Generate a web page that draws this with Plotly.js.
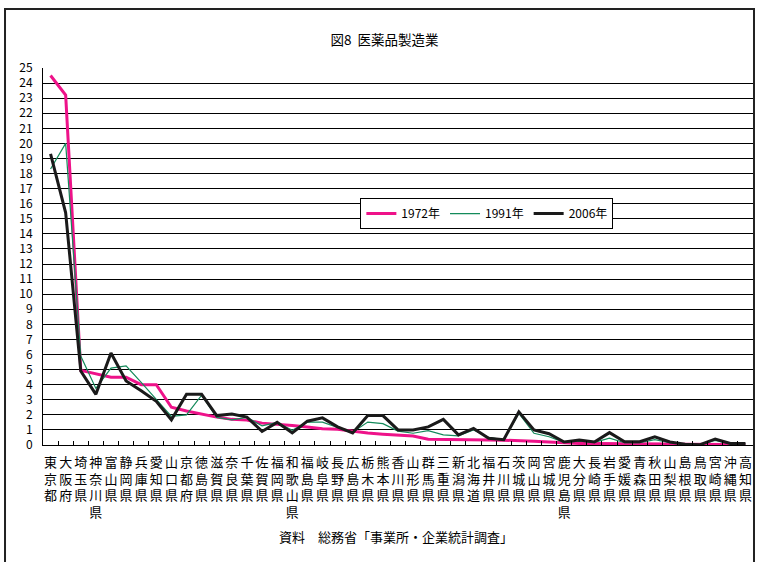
<!DOCTYPE html>
<html>
<head>
<meta charset="utf-8">
<script src="https://cdn.plot.ly/plotly-3.0.1.min.js"></script>
<style>
  html, body { margin: 0; padding: 0; background: #fff; }
  #chart { width: 757px; height: 562px; }
</style>
</head>
<body>
<div id="chart"></div>
<script>
// Prefectures, ordered by 1972 share
const prefectures = ["東京都","大阪府","埼玉県","神奈川県","富山県","静岡県","兵庫県","愛知県","山口県","京都府",
  "徳島県","滋賀県","奈良県","千葉県","佐賀県","福岡県","和歌山県","福島県","岐阜県","長野県",
  "広島県","栃木県","熊本県","香川県","山形県","群馬県","三重県","新潟県","北海道","福井県",
  "石川県","茨城県","岡山県","宮城県","鹿児島県","大分県","長崎県","岩手県","愛媛県","青森県",
  "秋田県","山梨県","島根県","鳥取県","宮崎県","沖縄県","高知県"];

// Share (%) by year
const share1972 = [24.5, 23.2, 4.95, 4.75, 4.5, 4.5, 4.0, 4.0, 2.5, 2.25,
  2.05, 1.85, 1.7, 1.65, 1.45, 1.35, 1.3, 1.2, 1.08, 1.05,
  0.92, 0.8, 0.72, 0.68, 0.6, 0.38, 0.38, 0.38, 0.36, 0.33,
  0.32, 0.3, 0.25, 0.2, 0.15, 0.1, 0.1, 0.1, 0.08, 0.08,
  0.07, 0.06, 0.05, 0.03, 0.05, 0.04, 0.04];
const share1991 = [18.3, 20.0, 5.9, 3.75, 5.1, 5.25, 4.15, 3.0, 1.9, 2.0,
  3.3, 1.83, 1.67, 1.83, 1.27, 1.5, 0.98, 1.52, 1.52, 1.16,
  0.85, 1.52, 1.42, 0.92, 0.78, 0.95, 0.67, 0.6, 1.0, 0.5,
  0.35, 2.1, 0.78, 0.55, 0.18, 0.25, 0.18, 0.45, 0.15, 0.15,
  0.35, 0.15, 0.05, 0.02, 0.3, 0.08, 0.08];
const share2006 = [19.3, 15.4, 4.9, 3.36, 6.1, 4.25, 3.6, 2.9, 1.67, 3.36,
  3.36, 1.95, 2.05, 1.85, 0.9, 1.5, 0.8, 1.58, 1.8, 1.2,
  0.8, 1.95, 1.95, 1.0, 1.0, 1.2, 1.7, 0.67, 1.1, 0.45,
  0.35, 2.2, 1.0, 0.75, 0.2, 0.33, 0.2, 0.82, 0.22, 0.22,
  0.55, 0.2, 0.05, 0.02, 0.4, 0.1, 0.1];

const yTicks = Array.from({length: 26}, (_, i) => i);

// Stack characters vertically for upright column labels
const verticalLabels = prefectures.map(p => p.split("").join("<br>"));

const narrow = "Liberation Sans Narrow, Noto Sans CJK JP, sans-serif";
const cjk = "Noto Sans CJK JP, sans-serif";

const traces = [
  { name: "1972年", y: share1972, color: "#ee1289", width: 3 },
  { name: "1991年", y: share1991, color: "#138a5a", width: 1.2 },
  { name: "2006年", y: share2006, color: "#1a1a1a", width: 3 }
].map(s => ({
  type: "scatter",
  mode: "lines",
  name: s.name,
  x: prefectures,
  y: s.y,
  line: { color: s.color, width: s.width }
}));

const layout = {
  width: 757,
  height: 562,
  margin: { l: 43, r: 4, t: 68, b: 117 },
  paper_bgcolor: "#fff",
  plot_bgcolor: "#fff",
  showlegend: true,
  title: {
    text: "図8  医薬品製造業",
    font: { family: narrow, size: 13.5, color: "#000" },
    x: 0.508, xref: "container", xanchor: "center",
    y: 0.929, yref: "container", yanchor: "middle"
  },
  xaxis: {
    type: "category",
    tickvals: prefectures,
    ticktext: verticalLabels,
    tickangle: 0,
    range: [-0.5, prefectures.length - 0.5],
    ticks: "inside",
    tickson: "boundaries",
    ticklen: 4,
    tickcolor: "#000",
    ticklabelstandoff: 5,
    showgrid: false,
    showline: true,
    linecolor: "#000",
    linewidth: 1,
    tickfont: { family: cjk, size: 13, color: "#000" },
    fixedrange: true
  },
  yaxis: {
    range: [0, 25],
    tickvals: yTicks,
    ticks: "",
    ticklabelstandoff: 7,
    showgrid: true,
    gridcolor: "#000",
    gridwidth: 1,
    zeroline: false,
    showline: true,
    linecolor: "#000",
    linewidth: 1,
    tickfont: { family: narrow, size: 12, color: "#000" },
    fixedrange: true
  },
  legend: {
    orientation: "h",
    x: 0.447, xanchor: "left",
    y: 0.655, yanchor: "top",
    bgcolor: "#fff",
    bordercolor: "#000",
    borderwidth: 1,
    font: { family: narrow, size: 12, color: "#000" },
    itemwidth: 30,
    tracegroupgap: 0
  },
  annotations: [{
    text: "資料　総務省「事業所・企業統計調査」",
    xref: "paper", yref: "paper",
    x: 0.497, y: -0.244,
    xanchor: "center", yanchor: "middle",
    showarrow: false,
    font: { family: cjk, size: 13, color: "#000" }
  }],
  shapes: [{
    type: "rect",
    xref: "paper", yref: "paper",
    x0: -0.0535, x1: 1.0014,
    y0: -0.35, y1: 1.1565,
    line: { color: "#222", width: 2 },
    fillcolor: "rgba(0,0,0,0)",
    layer: "above"
  }]
};

Plotly.newPlot("chart", traces, layout, { staticPlot: true, displayModeBar: false });
</script>
</body>
</html>
